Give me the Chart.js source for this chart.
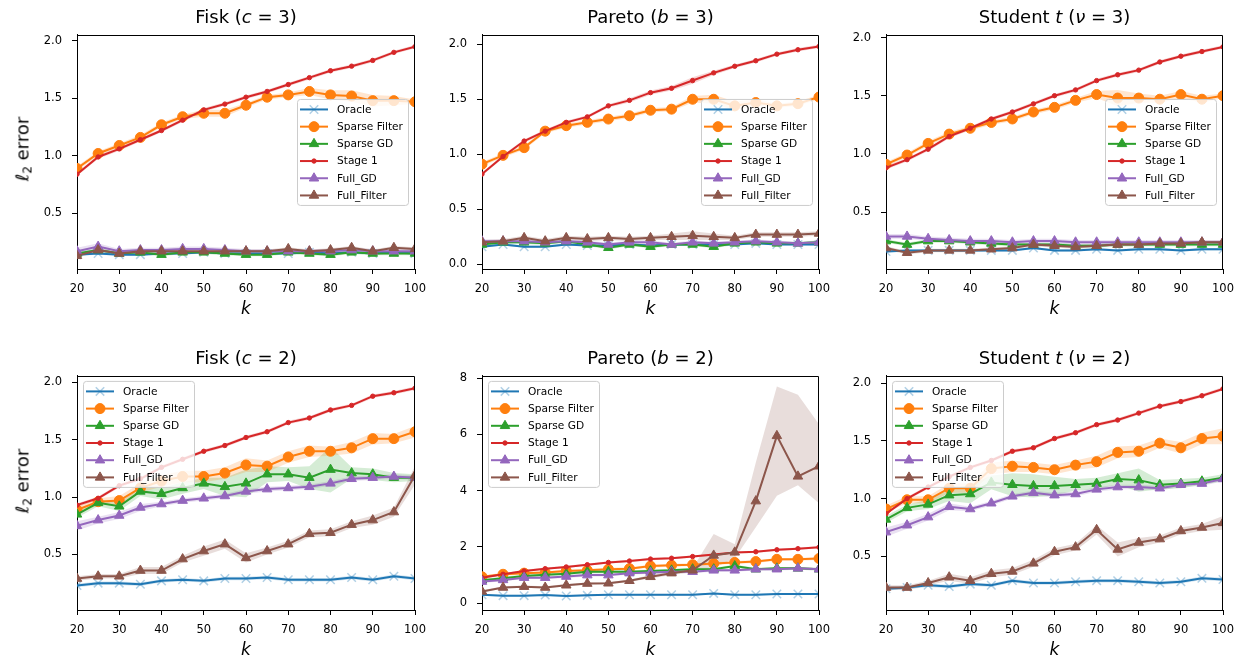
<!DOCTYPE html>
<html>
<head>
<meta charset="utf-8">
<script src="https://cdn.jsdelivr.net/npm/chart.js@4.4.1/dist/chart.umd.min.js"></script>
<style>
  html, body { margin: 0; padding: 0; background: #fff; }
  #fig { position: relative; width: 1245px; height: 662px; overflow: hidden; font-family: 'DejaVu Sans', sans-serif; color: #000; }
  #fig canvas { position: absolute; }
  .lbl { position: absolute; white-space: nowrap; transform: translate(-50%, -50%); }
  .title { font-size: 18px; }
  .ylab { font-size: 18px; transform: translate(-50%, -50%) rotate(-90deg); }
  .ylab sub { font-size: 12px; vertical-align: -3px; }
  .xlab { font-size: 17px; font-style: italic; }
</style>
</head>
<body>
<div id="fig"></div>
<script>
const kValues = [20, 25, 30, 35, 40, 45, 50, 55, 60, 65, 70, 75, 80, 85, 90, 95, 100]
const xTickValues = [20, 30, 40, 50, 60, 70, 80, 90, 100]
const yTicksHalf = [0.5, 1.0, 1.5, 2.0]
const yTicksHalfZero = [0.0, 0.5, 1.0, 1.5, 2.0]
const yTicksWide = [0, 2, 4, 6, 8]
const seriesNames = ['Oracle', 'Sparse Filter', 'Sparse GD', 'Stage 1', 'Full_GD', 'Full_Filter']

// Fisk (c = 3)
const fisk3Oracle = [0.14, 0.15, 0.14, 0.14, 0.15, 0.15, 0.16, 0.15, 0.15, 0.15, 0.15, 0.16, 0.15, 0.16, 0.15, 0.16, 0.15]
const fisk3SparseFilter = [0.89, 1.02, 1.09, 1.16, 1.27, 1.34, 1.37, 1.37, 1.44, 1.51, 1.53, 1.56, 1.53, 1.52, 1.48, 1.48, 1.47]
const fisk3SparseGD = [0.15, 0.18, 0.15, 0.16, 0.14, 0.16, 0.16, 0.15, 0.14, 0.14, 0.16, 0.15, 0.14, 0.16, 0.15, 0.15, 0.15]
const fisk3Stage1 = [0.84, 0.99, 1.06, 1.14, 1.22, 1.31, 1.40, 1.45, 1.51, 1.56, 1.62, 1.68, 1.74, 1.78, 1.83, 1.90, 1.95]
const fisk3FullGD = [0.17, 0.21, 0.17, 0.18, 0.18, 0.19, 0.19, 0.18, 0.17, 0.17, 0.17, 0.17, 0.17, 0.18, 0.17, 0.17, 0.17]
const fisk3FullFilter = [0.13, 0.18, 0.15, 0.17, 0.17, 0.17, 0.17, 0.17, 0.17, 0.17, 0.19, 0.17, 0.18, 0.20, 0.17, 0.20, 0.19]
const fisk3SparseFilterSd = [0.02, 0.02, 0.02, 0.02, 0.02, 0.02, 0.03, 0.03, 0.02, 0.02, 0.02, 0.03, 0.04, 0.05, 0.05, 0.04, 0.02]
const fisk3FullGDSd = [0.03, 0.03, 0.02, 0.02, 0.02, 0.02, 0.02, 0.02, 0.02, 0.02, 0.02, 0.02, 0.02, 0.02, 0.02, 0.02, 0.02]

// Pareto (b = 3)
const pareto3Oracle = [0.16, 0.18, 0.16, 0.16, 0.18, 0.17, 0.17, 0.18, 0.17, 0.18, 0.18, 0.18, 0.18, 0.19, 0.18, 0.18, 0.18]
const pareto3SparseFilter = [0.91, 0.99, 1.06, 1.21, 1.26, 1.29, 1.32, 1.35, 1.40, 1.41, 1.50, 1.50, 1.44, 1.47, 1.44, 1.46, 1.52]
const pareto3SparseGD = [0.18, 0.20, 0.20, 0.19, 0.21, 0.18, 0.15, 0.18, 0.16, 0.18, 0.18, 0.16, 0.19, 0.20, 0.19, 0.19, 0.20]
const pareto3Stage1 = [0.82, 0.98, 1.12, 1.21, 1.29, 1.34, 1.44, 1.49, 1.56, 1.60, 1.67, 1.74, 1.80, 1.85, 1.91, 1.95, 1.98]
const pareto3FullGD = [0.21, 0.21, 0.21, 0.20, 0.21, 0.20, 0.18, 0.20, 0.20, 0.18, 0.20, 0.19, 0.20, 0.21, 0.20, 0.19, 0.20]
const pareto3FullFilter = [0.20, 0.21, 0.24, 0.21, 0.24, 0.23, 0.24, 0.23, 0.24, 0.25, 0.26, 0.25, 0.24, 0.27, 0.27, 0.27, 0.28]
const pareto3SparseFilterSd = [0.02, 0.02, 0.02, 0.02, 0.02, 0.02, 0.02, 0.02, 0.02, 0.02, 0.03, 0.04, 0.04, 0.03, 0.02, 0.02, 0.02]
const pareto3Stage1Sd = [0.015, 0.015, 0.015, 0.015, 0.015, 0.015, 0.015, 0.02, 0.02, 0.02, 0.03, 0.02, 0.015, 0.015, 0.015, 0.015, 0.015]
const pareto3FullFilterSd = [0.02, 0.02, 0.02, 0.02, 0.02, 0.02, 0.02, 0.02, 0.02, 0.03, 0.04, 0.03, 0.02, 0.02, 0.02, 0.02, 0.02]

// Student t (nu = 3)
const student3Oracle = [0.16, 0.17, 0.17, 0.17, 0.17, 0.17, 0.17, 0.19, 0.17, 0.17, 0.18, 0.17, 0.18, 0.18, 0.17, 0.18, 0.18]
const student3SparseFilter = [0.91, 0.99, 1.09, 1.17, 1.22, 1.27, 1.30, 1.36, 1.40, 1.46, 1.51, 1.48, 1.48, 1.47, 1.51, 1.47, 1.50]
const student3SparseGD = [0.25, 0.22, 0.25, 0.25, 0.24, 0.23, 0.22, 0.22, 0.22, 0.21, 0.21, 0.22, 0.22, 0.22, 0.22, 0.22, 0.22]
const student3Stage1 = [0.88, 0.95, 1.04, 1.15, 1.22, 1.30, 1.36, 1.43, 1.50, 1.55, 1.63, 1.68, 1.72, 1.79, 1.84, 1.88, 1.92]
const student3FullGD = [0.29, 0.29, 0.27, 0.26, 0.25, 0.25, 0.24, 0.25, 0.25, 0.24, 0.24, 0.24, 0.24, 0.24, 0.24, 0.24, 0.24]
const student3FullFilter = [0.19, 0.15, 0.17, 0.17, 0.17, 0.18, 0.19, 0.22, 0.21, 0.20, 0.21, 0.22, 0.22, 0.23, 0.23, 0.24, 0.24]
const student3SparseFilterSd = [0.02, 0.02, 0.02, 0.02, 0.02, 0.02, 0.02, 0.02, 0.02, 0.02, 0.03, 0.07, 0.04, 0.03, 0.03, 0.03, 0.02]

// Fisk (c = 2)
const fisk2Oracle = [0.23, 0.25, 0.25, 0.24, 0.27, 0.28, 0.27, 0.29, 0.29, 0.30, 0.28, 0.28, 0.28, 0.30, 0.28, 0.31, 0.29]
const fisk2SparseFilter = [0.89, 0.96, 0.97, 1.08, 1.14, 1.18, 1.18, 1.21, 1.28, 1.27, 1.35, 1.40, 1.40, 1.43, 1.51, 1.51, 1.57]
const fisk2SparseGD = [0.85, 0.95, 0.92, 1.05, 1.03, 1.08, 1.12, 1.09, 1.12, 1.20, 1.20, 1.17, 1.24, 1.21, 1.20, 1.17, 1.17]
const fisk2Stage1 = [0.93, 0.99, 1.10, 1.16, 1.26, 1.33, 1.40, 1.45, 1.52, 1.57, 1.65, 1.69, 1.76, 1.80, 1.88, 1.91, 1.95]
const fisk2FullGD = [0.75, 0.80, 0.84, 0.91, 0.94, 0.97, 0.99, 1.01, 1.05, 1.07, 1.08, 1.09, 1.12, 1.16, 1.17, 1.18, 1.17]
const fisk2FullFilter = [0.29, 0.31, 0.31, 0.36, 0.36, 0.46, 0.53, 0.59, 0.47, 0.53, 0.59, 0.68, 0.69, 0.76, 0.80, 0.87, 1.19]
const fisk2SparseFilterSd = [0.03, 0.03, 0.04, 0.04, 0.05, 0.05, 0.05, 0.05, 0.06, 0.05, 0.05, 0.05, 0.04, 0.05, 0.05, 0.04, 0.05]
const fisk2SparseGDSd = [0.03, 0.03, 0.04, 0.04, 0.05, 0.05, 0.05, 0.08, 0.12, 0.07, 0.06, 0.10, 0.20, 0.05, 0.05, 0.04, 0.03]
const fisk2FullGDSd = [0.04, 0.03, 0.03, 0.03, 0.02, 0.02, 0.02, 0.02, 0.02, 0.02, 0.02, 0.02, 0.02, 0.02, 0.02, 0.02, 0.02]
const fisk2FullFilterSd = [0.02, 0.02, 0.02, 0.03, 0.03, 0.03, 0.04, 0.04, 0.04, 0.03, 0.03, 0.03, 0.03, 0.03, 0.04, 0.04, 0.08]

// Pareto (b = 2)
const pareto2Oracle = [0.30, 0.27, 0.27, 0.29, 0.26, 0.28, 0.30, 0.30, 0.30, 0.30, 0.30, 0.35, 0.30, 0.30, 0.33, 0.33, 0.33]
const pareto2SparseFilter = [0.94, 1.03, 1.07, 1.09, 1.15, 1.17, 1.21, 1.23, 1.32, 1.35, 1.37, 1.41, 1.45, 1.48, 1.56, 1.56, 1.59]
const pareto2SparseGD = [0.82, 0.89, 0.97, 1.01, 1.05, 1.12, 1.12, 1.12, 1.15, 1.17, 1.21, 1.21, 1.32, 1.21, 1.24, 1.24, 1.21]
const pareto2Stage1 = [0.91, 1.03, 1.15, 1.23, 1.29, 1.37, 1.45, 1.50, 1.57, 1.60, 1.66, 1.73, 1.80, 1.83, 1.90, 1.94, 1.99]
const pareto2FullGD = [0.77, 0.83, 0.91, 0.91, 0.95, 1.00, 1.00, 1.07, 1.09, 1.12, 1.12, 1.17, 1.17, 1.21, 1.21, 1.24, 1.21]
const pareto2FullFilter = [0.42, 0.56, 0.59, 0.56, 0.64, 0.70, 0.71, 0.80, 0.94, 1.07, 1.17, 1.70, 1.81, 3.63, 5.95, 4.51, 4.87]
const pareto2FullFilterLo = [0.38, 0.52, 0.55, 0.52, 0.60, 0.66, 0.67, 0.76, 0.88, 1.00, 1.10, 1.25, 1.60, 2.70, 3.82, 4.19, 3.55]
const pareto2FullFilterHi = [0.46, 0.60, 0.63, 0.60, 0.68, 0.74, 0.75, 0.84, 1.00, 1.14, 1.24, 2.46, 2.10, 5.00, 7.70, 7.41, 6.36]

// Student t (nu = 2)
const student2Oracle = [0.22, 0.23, 0.25, 0.24, 0.26, 0.25, 0.29, 0.27, 0.27, 0.28, 0.29, 0.29, 0.28, 0.27, 0.28, 0.31, 0.30]
const student2SparseFilter = [0.91, 0.99, 0.99, 1.09, 1.09, 1.26, 1.28, 1.27, 1.25, 1.29, 1.32, 1.40, 1.41, 1.48, 1.44, 1.52, 1.54]
const student2SparseGD = [0.82, 0.92, 0.95, 1.03, 1.04, 1.14, 1.12, 1.11, 1.11, 1.12, 1.13, 1.17, 1.16, 1.12, 1.13, 1.15, 1.18]
const student2Stage1 = [0.87, 1.00, 1.10, 1.19, 1.27, 1.33, 1.41, 1.44, 1.52, 1.57, 1.64, 1.68, 1.74, 1.80, 1.84, 1.89, 1.95]
const student2FullGD = [0.71, 0.77, 0.84, 0.93, 0.91, 0.96, 1.02, 1.05, 1.03, 1.04, 1.08, 1.10, 1.10, 1.09, 1.12, 1.13, 1.17]
const student2FullFilter = [0.23, 0.23, 0.27, 0.32, 0.29, 0.35, 0.37, 0.44, 0.54, 0.58, 0.73, 0.56, 0.62, 0.65, 0.72, 0.75, 0.79]
const student2SparseFilterSd = [0.03, 0.03, 0.03, 0.04, 0.04, 0.05, 0.05, 0.04, 0.04, 0.04, 0.05, 0.05, 0.05, 0.04, 0.05, 0.05, 0.07]
const student2SparseGDSd = [0.03, 0.03, 0.04, 0.05, 0.08, 0.06, 0.10, 0.10, 0.08, 0.05, 0.05, 0.05, 0.10, 0.04, 0.04, 0.03, 0.03]
const student2FullGDSd = [0.04, 0.03, 0.03, 0.03, 0.02, 0.02, 0.02, 0.02, 0.02, 0.02, 0.02, 0.02, 0.02, 0.02, 0.02, 0.02, 0.02]
const student2FullFilterSd = [0.02, 0.02, 0.02, 0.03, 0.03, 0.03, 0.03, 0.03, 0.03, 0.03, 0.04, 0.06, 0.04, 0.03, 0.03, 0.03, 0.06]

const colors = ['#1f77b4', '#ff7f0e', '#2ca02c', '#d62728', '#9467bd', '#8c564b']
const bandColors = ['rgba(31,119,180,0.2)', 'rgba(255,127,14,0.2)', 'rgba(44,160,44,0.2)',
  'rgba(214,39,40,0.2)', 'rgba(148,103,189,0.2)', 'rgba(140,86,75,0.2)']
const markers = [
  { style: 'crossRot', r: 6, face: 'rgba(0,0,0,0)', edge: 'rgba(31,119,180,0.35)', bw: 1.5 },
  { style: 'circle', r: 5, face: '#ff7f0e', edge: '#ff7f0e', bw: 1 },
  { style: 'triangle', r: 5.5, face: '#2ca02c', edge: '#2ca02c', bw: 1 },
  { style: 'circle', r: 2.2, face: '#d62728', edge: '#d62728', bw: 1 },
  { style: 'triangle', r: 5.5, face: '#9467bd', edge: '#9467bd', bw: 1 },
  { style: 'triangle', r: 5.5, face: '#8c564b', edge: '#8c564b', bw: 1 },
]

const panels = [
  { title: 'Fisk (<i>c</i> = 3)', L: 77, T: 32, R: 415, B: 269, yMin: 0.015, yMax: 2.052, yTicks: yTicksHalf, dec: 1, legend: 'right', ylabY: 149,
    series: [fisk3Oracle, fisk3SparseFilter, fisk3SparseGD, fisk3Stage1, fisk3FullGD, fisk3FullFilter],
    spread: [0.01, fisk3SparseFilterSd, 0.015, 0.015, fisk3FullGDSd, 0.015] },
  { title: 'Pareto (<i>b</i> = 3)', L: 482, T: 32, R: 819, B: 269, yMin: -0.043, yMax: 2.085, yTicks: yTicksHalfZero, dec: 1, legend: 'right',
    series: [pareto3Oracle, pareto3SparseFilter, pareto3SparseGD, pareto3Stage1, pareto3FullGD, pareto3FullFilter],
    spread: [0.01, pareto3SparseFilterSd, 0.015, pareto3Stage1Sd, 0.015, pareto3FullFilterSd] },
  { title: 'Student <i>t</i> (<i>ν</i> = 3)', L: 886, T: 32, R: 1223, B: 269, yMin: 0.01, yMax: 2.023, yTicks: yTicksHalf, dec: 1, legend: 'right',
    series: [student3Oracle, student3SparseFilter, student3SparseGD, student3Stage1, student3FullGD, student3FullFilter],
    spread: [0.01, student3SparseFilterSd, 0.015, 0.015, 0.02, 0.015] },
  { title: 'Fisk (<i>c</i> = 2)', L: 77, T: 373, R: 415, B: 610, yMin: 0.016, yMax: 2.057, yTicks: yTicksHalf, dec: 1, legend: 'left', ylabY: 481,
    series: [fisk2Oracle, fisk2SparseFilter, fisk2SparseGD, fisk2Stage1, fisk2FullGD, fisk2FullFilter],
    spread: [0.015, fisk2SparseFilterSd, fisk2SparseGDSd, 0.015, fisk2FullGDSd, fisk2FullFilterSd] },
  { title: 'Pareto (<i>b</i> = 2)', L: 482, T: 373, R: 819, B: 610, yMin: -0.24, yMax: 8.08, yTicks: yTicksWide, dec: 0, legend: 'left',
    series: [pareto2Oracle, pareto2SparseFilter, pareto2SparseGD, pareto2Stage1, pareto2FullGD, pareto2FullFilter],
    spread: [0.03, 0.05, 0.05, 0.04, 0.05, { lo: pareto2FullFilterLo, hi: pareto2FullFilterHi }] },
  { title: 'Student <i>t</i> (<i>ν</i> = 2)', L: 886, T: 373, R: 1223, B: 610, yMin: 0.036, yMax: 2.062, yTicks: yTicksHalf, dec: 1, legend: 'left',
    series: [student2Oracle, student2SparseFilter, student2SparseGD, student2Stage1, student2FullGD, student2FullFilter],
    spread: [0.015, student2SparseFilterSd, student2SparseGDSd, 0.015, student2FullGDSd, student2FullFilterSd] },
]

const Y_AXIS_W = 60
const X_AXIS_H = 30
const PAD_TOP = 14
const PAD_RIGHT = 20
const tickFont = { family: 'DejaVu Sans', size: 11.5 }

function points(vals) {
  return vals.map((v, i) => ({ x: kValues[i], y: v }))
}

function bandEdges(vals, sp) {
  if (sp.lo) return sp
  const s = (i) => (Array.isArray(sp) ? sp[i] : sp)
  return { lo: vals.map((v, i) => v - s(i)), hi: vals.map((v, i) => v + s(i)) }
}

function drawMarker(ctx, m, x, y) {
  ctx.fillStyle = m.face
  ctx.strokeStyle = m.edge
  ctx.lineWidth = m.bw
  Chart.helpers.drawPoint(ctx, { pointStyle: m.style, radius: m.r, rotation: 0, borderWidth: m.bw }, x, y)
}

const framePlugin = {
  id: 'frameLegend',
  afterDatasetsDraw(chart, args, opts) {
    const { ctx, chartArea: a } = chart
    ctx.save()
    // top and right spines
    ctx.strokeStyle = '#000'
    ctx.lineWidth = 1
    ctx.beginPath()
    const top = Math.round(a.top) + 0.5
    const right = Math.round(a.right) - 0.5
    ctx.moveTo(a.left, top)
    ctx.lineTo(right, top)
    ctx.lineTo(right, a.bottom)
    ctx.stroke()

    // legend box
    const w = 111
    const h = 106
    const x = opts.loc === 'right' ? a.right - 7 - w : a.left + 6
    const y = opts.loc === 'right' ? (a.top + a.bottom) / 2 - h / 2 : a.top + 5
    ctx.beginPath()
    ctx.roundRect(x + 0.5, y + 0.5, w, h, 3)
    ctx.fillStyle = 'rgba(255,255,255,0.8)'
    ctx.fill()
    ctx.strokeStyle = '#cccccc'
    ctx.stroke()
    ctx.font = '10.6px "DejaVu Sans"'
    ctx.textBaseline = 'middle'
    seriesNames.forEach((name, i) => {
      const cy = y + 10.5 + i * 17.2
      ctx.strokeStyle = colors[i]
      ctx.lineWidth = 2
      ctx.beginPath()
      ctx.moveTo(x + 3, cy)
      ctx.lineTo(x + 31, cy)
      ctx.stroke()
      drawMarker(ctx, markers[i], x + 17, cy)
      ctx.fillStyle = '#000'
      ctx.fillText(name, x + 40, cy + 0.5)
    })
    ctx.restore()
  },
}

const fig = document.getElementById('fig')

function addLabel(cls, html, x, y) {
  const d = document.createElement('div')
  d.className = 'lbl ' + cls
  d.innerHTML = html
  d.style.left = x + 'px'
  d.style.top = y + 'px'
  fig.appendChild(d)
}

panels.forEach((p) => {
  const canvas = document.createElement('canvas')
  const w = p.R - p.L + Y_AXIS_W + PAD_RIGHT
  const h = p.B - p.T + PAD_TOP + X_AXIS_H
  canvas.width = w
  canvas.height = h
  canvas.style.width = w + 'px'
  canvas.style.height = h + 'px'
  canvas.style.left = p.L - Y_AXIS_W + 'px'
  canvas.style.top = p.T - PAD_TOP + 'px'
  fig.appendChild(canvas)

  const datasets = []
  p.series.forEach((vals, i) => {
    const b = bandEdges(vals, p.spread[i])
    datasets.push({ data: points(b.lo), borderWidth: 0, borderColor: 'rgba(0,0,0,0)', pointRadius: 0, fill: false, order: 50 })
    datasets.push({ data: points(b.hi), borderWidth: 0, borderColor: 'rgba(0,0,0,0)', pointRadius: 0, fill: '-1', backgroundColor: bandColors[i], order: 50 })
  })
  p.series.forEach((vals, i) => {
    const m = markers[i]
    datasets.push({
      data: points(vals),
      borderColor: colors[i],
      borderWidth: 2,
      fill: false,
      tension: 0,
      pointStyle: m.style,
      pointRadius: m.r,
      pointBackgroundColor: m.face,
      pointBorderColor: m.edge,
      pointBorderWidth: m.bw,
      order: 10 - i,
    })
  })

  new Chart(canvas, {
    type: 'line',
    data: { datasets },
    options: {
      responsive: false,
      animation: false,
      events: [],
      layout: { padding: { top: PAD_TOP, right: PAD_RIGHT, left: 0, bottom: 0 } },
      plugins: {
        legend: { display: false },
        tooltip: { enabled: false },
        frameLegend: { loc: p.legend },
      },
      scales: {
        x: {
          type: 'linear',
          min: 20,
          max: 100,
          afterBuildTicks: (s) => { s.ticks = xTickValues.map((v) => ({ value: v })) },
          afterFit: (s) => { s.height = X_AXIS_H },
          grid: { drawOnChartArea: false, drawTicks: true, tickLength: 5, color: '#000' },
          border: { color: '#000', width: 1 },
          ticks: { font: tickFont, color: '#000', padding: 8, maxRotation: 0, autoSkip: false, callback: (v) => String(v) },
        },
        y: {
          type: 'linear',
          min: p.yMin,
          max: p.yMax,
          afterBuildTicks: (s) => { s.ticks = p.yTicks.map((v) => ({ value: v })) },
          afterFit: (s) => { s.width = Y_AXIS_W },
          grid: { drawOnChartArea: false, drawTicks: true, tickLength: 5, color: '#000' },
          border: { color: '#000', width: 1 },
          ticks: { font: tickFont, color: '#000', padding: 10, autoSkip: false, callback: (v) => v.toFixed(p.dec) },
        },
      },
    },
    plugins: [framePlugin],
  })

  const cx = (p.L + p.R) / 2
  addLabel('title', p.title, cx, p.T - 16)
  addLabel('xlab', 'k', cx, p.B + 39)
  if (p.ylabY) addLabel('ylab', '<i>ℓ</i><sub>2</sub> error', 23, p.ylabY)
})
</script>
</body>
</html>
